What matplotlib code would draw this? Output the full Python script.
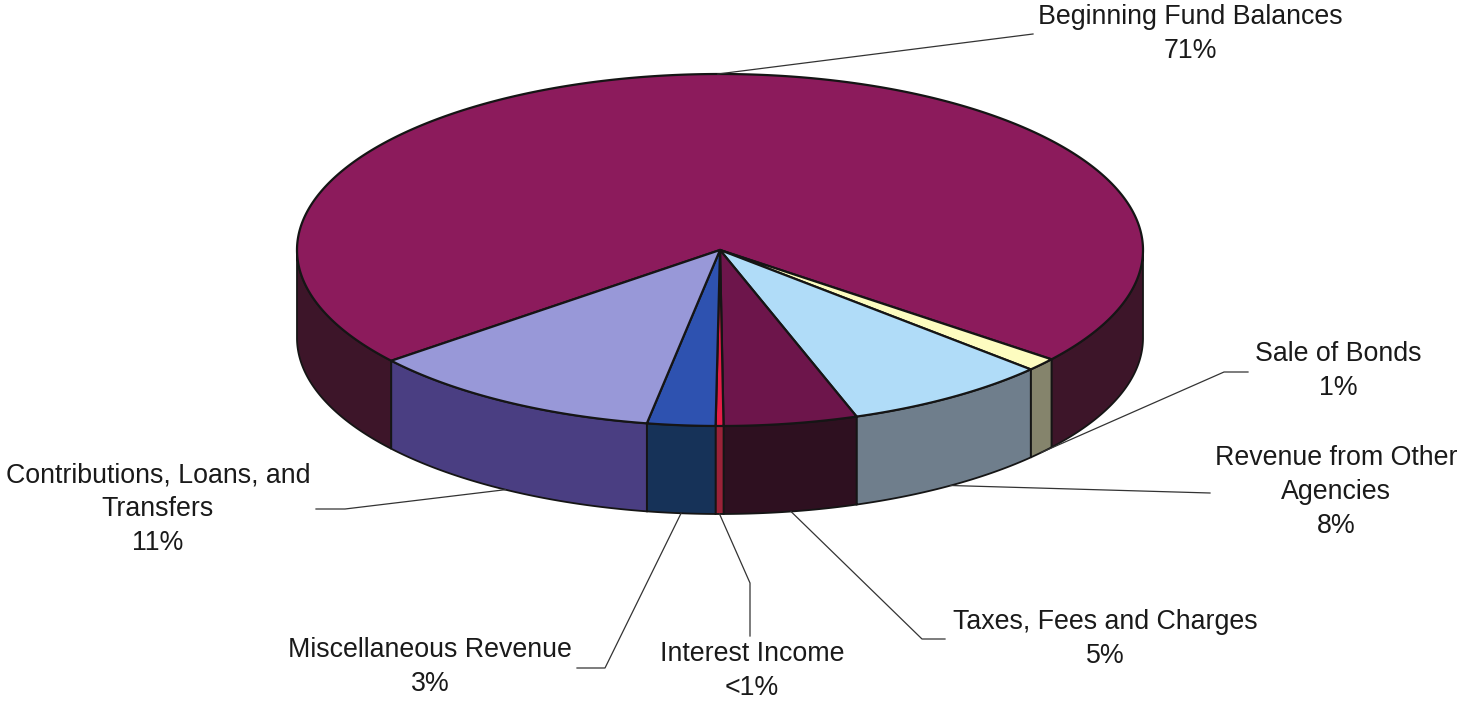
import numpy as np
import matplotlib.pyplot as plt
from matplotlib.patches import Polygon

plt.rcParams["font.family"] = ["Liberation Sans", "DejaVu Sans"]

# slice data, in the order they run round the pie (screen clockwise)
categories = [
    "Beginning Fund Balances",
    "Sale of Bonds",
    "Revenue from Other\nAgencies",
    "Taxes, Fees and Charges",
    "Interest Income",
    "Miscellaneous Revenue",
    "Contributions, Loans, and\nTransfers",
]
shares = [71.5, 1.2, 7.9, 5.1, 0.3, 2.6, 11.4]
pct_labels = ["71%", "1%", "8%", "5%", "<1%", "3%", "11%"]

top_colors = ["#8c1b5c", "#fdfcc0", "#b0dcf8", "#6d154b", "#e41e48", "#2e52b0", "#9898d8"]
side_colors = ["#3d1529", "#85846c", "#6f7e8c", "#2e1020", "#9a2238", "#163258", "#4a3e82"]

# pie geometry in pixels
cx, cy = 720, 250
rx, ry = 423, 176
depth = 88
start = 141.0

# label layout: text centre, and leader elbow points
label_pos = [(1190, 34), (1338, 371), (1336, 492), (1105, 639), (752, 671), (430, 667), (158, 509)]
elbows = [
    [(1033, 34)],
    [(1224, 372), (1248, 372)],
    [(1210, 493)],
    [(922, 639), (945, 639)],
    [(750, 583), (750, 636)],
    [(605, 668), (577, 668)],
    [(345, 509), (316, 509)],
]


def ellipse_pts(t0, t1, dy=0.0, n=200):
    t = np.radians(np.linspace(t0, t1, n))
    return np.column_stack([cx + rx * np.cos(t), cy + ry * np.sin(t) + dy])


fig = plt.figure(figsize=(14.6, 7.03), dpi=100)
ax = fig.add_axes([0, 0, 1, 1])
ax.set_xlim(0, 1460)
ax.set_ylim(703, 0)
ax.axis("off")

total = sum(shares)
bounds = []
a = start
for s in shares:
    span = 360.0 * s / total
    bounds.append((a, a + span))
    a += span

edge = "#151515"

# side walls, front half only
for (t0, t1), col in zip(bounds, side_colors):
    for k in (0, 360):
        lo = max(t0 - k, 0.0)
        hi = min(t1 - k, 180.0)
        if hi <= lo:
            continue
        topa = ellipse_pts(lo, hi)
        bot = ellipse_pts(hi, lo, dy=depth)
        ax.add_patch(Polygon(np.vstack([topa, bot]), closed=True, fc=col, ec=edge, lw=1.3))

# top faces
for (t0, t1), col in zip(bounds, top_colors):
    pts = np.vstack([[cx, cy], ellipse_pts(t0, t1, n=400)])
    ax.add_patch(Polygon(pts, closed=True, fc=col, ec=edge, lw=1.6, joinstyle="round"))

# labels and leader lines
for (t0, t1), name, pct, pos, elb in zip(bounds, categories, pct_labels, label_pos, elbows):
    mid = np.radians((t0 + t1) / 2)
    s = np.sin(mid)
    dy = depth if s > 0 else 0.0
    x0 = cx + rx * np.cos(mid)
    y0 = cy + ry * s + dy
    xs = [x0] + [p[0] for p in elb]
    ys = [y0] + [p[1] for p in elb]
    ax.plot(xs, ys, color="#333333", lw=0.9)
    ax.text(pos[0], pos[1], name + "\n" + pct, ha="center", va="center",
            fontsize=19.3, color="#1a1a1a", linespacing=1.4)

fig.savefig("out.png", dpi=100)
